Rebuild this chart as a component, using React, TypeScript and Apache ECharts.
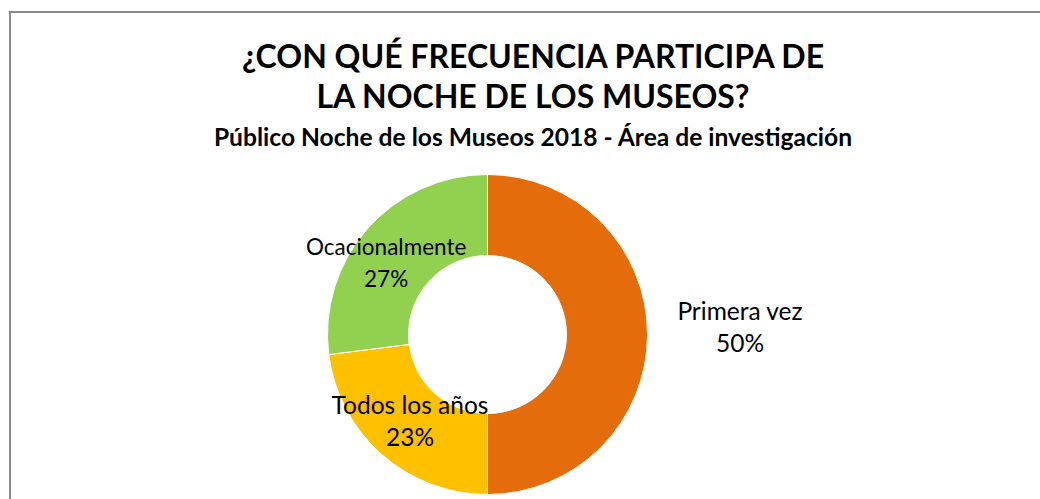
import React, { useEffect, useRef } from "react";
import * as echarts from "echarts";

const categories = ["Primera vez", "Todos los años", "Ocacionalmente"];
const values = [50, 23, 27];
const colors = ["#E46C0A", "#FFC000", "#92D050"];
const labelOffsets: [number, number][] = [
  [130, -8],
  [3.5, -6],
  [-9.5, 9],
];
const labelSizes = [24.5, 24.5, 22.5];
const titleLines = ["¿CON QUÉ FRECUENCIA PARTICIPA DE", "LA NOCHE DE LOS MUSEOS?"];
const subtitle = "Público Noche de los Museos 2018 - Área de investigación";

const FONT = "Lato, 'Open Sans', sans-serif";

export default function App() {
  const ref = useRef<HTMLDivElement>(null);
  useEffect(() => {
    if (!ref.current) return;
    const chart = echarts.init(ref.current, null, { renderer: "svg" });
    chart.setOption({
      animation: false,
      backgroundColor: "#ffffff",
      graphic: [
        {
          type: "rect",
          shape: { x: 10, y: 12, width: 1100, height: 600 },
          style: { fill: "none", stroke: "#8a8a8a", lineWidth: 2 },
          silent: true,
        },
      ],
      title: [
        {
          text: titleLines.join("\n"),
          left: 528,
          top: 30,
          textAlign: "center",
          textStyle: {
            fontFamily: FONT,
            fontSize: 32,
            fontWeight: "bold",
            color: "#000000",
            lineHeight: 40,
          },
        },
        {
          text: subtitle,
          left: 528,
          top: 119,
          textAlign: "center",
          textStyle: {
            fontFamily: FONT,
            fontSize: 24.6,
            fontWeight: "bold",
            color: "#000000",
          },
        },
      ],
      series: [
        {
          type: "pie",
          center: [487.5, 334.5],
          radius: [79, 160],
          startAngle: 90,
          clockwise: true,
          avoidLabelOverlap: false,
          itemStyle: { borderColor: "#ffffff", borderWidth: 1 },
          label: {
            show: true,
            position: "inside",
            fontFamily: FONT,
            fontSize: 24,
            lineHeight: 32,
            color: "#000000",
            formatter: (p: any) => `${p.name}\n${Math.round(p.percent)}%`,
          },
          labelLine: { show: false },
          emphasis: { disabled: true },
          data: categories.map((name, i) => ({
            name,
            value: values[i],
            itemStyle: { color: colors[i] },
            label: { offset: labelOffsets[i], fontSize: labelSizes[i] },
          })),
        },
      ],
    });
    return () => chart.dispose();
  }, []);
  return (
    <div
      ref={ref}
      style={{ position: "fixed", left: 0, top: 0, width: 1040, height: 499 }}
    />
  );
}
